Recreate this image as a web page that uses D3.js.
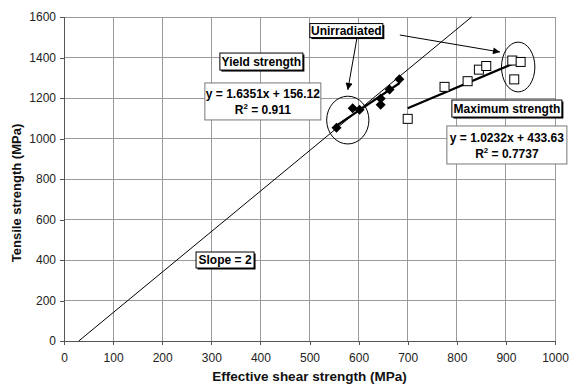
<!DOCTYPE html>
<html><head><meta charset="utf-8">
<script src="https://cdn.jsdelivr.net/npm/d3@7"></script>
<style>
body{margin:0;background:#fff}
svg{display:block;font-family:"Liberation Sans",Arial,sans-serif}
</style></head><body>
<svg id="chart" width="570" height="386"></svg>
<script>
// Yield strength measurements (filled diamonds)
const yieldShear   = [555, 588, 602, 645, 645, 663, 683];
const yieldTensile = [1053, 1150, 1142, 1167, 1197, 1242, 1292];
// Maximum strength measurements (open squares)
const maxShear   = [700, 775, 822, 845, 860, 913, 930, 917];
const maxTensile = [1097, 1255, 1283, 1340, 1358, 1385, 1378, 1292];
// Linear trend fits
const yieldFit = [1.6351, 156.12, 0.911];
const maxFit   = [1.0232, 433.63, 0.7737];
// Reference line of slope 2
const refSlope = 2, refStart = 30, refEnd = 830;
// Axis ticks
const xTicks = [0, 100, 200, 300, 400, 500, 600, 700, 800, 900, 1000];
const yTicks = [0, 200, 400, 600, 800, 1000, 1200, 1400, 1600];
const xTitle = "Effective shear strength (MPa)";
const yTitle = "Tensile strength (MPa)";
// Callout labels
const noteTexts = ["Unirradiated", "Yield strength", "Maximum strength", "Slope = 2"];

const W = 570, H = 386;
const m = {left: 64, right: 15, top: 17, bottom: 45};
const svg = d3.select("#chart");
const x = d3.scaleLinear().domain([0, 1000]).range([m.left, W - m.right]);
const y = d3.scaleLinear().domain([0, 1600]).range([H - m.bottom, m.top]);

// gridlines
const grid = svg.append("g").attr("stroke", "#9a9a9a").attr("stroke-width", 1).attr("shape-rendering", "crispEdges");
grid.selectAll(".gx").data(xTicks.slice(1)).join("line")
  .attr("x1", d => x(d)).attr("x2", d => x(d)).attr("y1", y(0)).attr("y2", y(1600));
grid.selectAll(".gy").data(yTicks.slice(1)).join("line")
  .attr("x1", x(0)).attr("x2", x(1000)).attr("y1", d => y(d)).attr("y2", d => y(d));

// axes
const xAxis = svg.append("g").attr("transform", `translate(0,${y(0)})`)
  .call(d3.axisBottom(x).tickValues(xTicks).tickFormat(d3.format("d")).tickSize(4).tickPadding(8));
const yAxis = svg.append("g").attr("transform", `translate(${x(0)},0)`)
  .call(d3.axisLeft(y).tickValues(yTicks).tickFormat(d3.format("d")).tickSize(4).tickPadding(4));
[xAxis, yAxis].forEach(a => {
  a.select(".domain").attr("stroke", "#555").attr("shape-rendering", "crispEdges");
  a.selectAll(".tick line").attr("stroke", "#555").attr("shape-rendering", "crispEdges");
  a.selectAll(".tick text").attr("font-size", 12).attr("fill", "#222")
    .attr("font-family", '"Liberation Sans",Arial,sans-serif');
});

svg.append("text").attr("x", (x(0) + x(1000)) / 2).attr("y", 381)
  .attr("text-anchor", "middle").attr("font-size", 13.5).attr("font-weight", "bold").attr("fill", "#111").text(xTitle);
svg.append("text").attr("transform", `translate(21,193) rotate(-90)`)
  .attr("text-anchor", "middle").attr("font-size", 13).attr("font-weight", "bold").attr("fill", "#111").text(yTitle);

// slope-2 reference line
svg.append("line")
  .attr("x1", x(refStart)).attr("y1", y(0))
  .attr("x2", x(refEnd)).attr("y2", y(refSlope * (refEnd - refStart)))
  .attr("stroke", "#000").attr("stroke-width", 1);

// trend lines
function trend(xs, fit) {
  const [a, b] = d3.extent(xs);
  svg.append("line")
    .attr("x1", x(a)).attr("y1", y(fit[0] * a + fit[1]))
    .attr("x2", x(b)).attr("y2", y(fit[0] * b + fit[1]))
    .attr("stroke", "#000").attr("stroke-width", 2.2);
}
trend(yieldShear, yieldFit);
trend(maxShear, maxFit);

// markers
svg.append("g").selectAll("path").data(d3.zip(yieldShear, yieldTensile)).join("path")
  .attr("d", d => `M${x(d[0])},${y(d[1]) - 5}l5,5l-5,5l-5,-5z`).attr("fill", "#000");
svg.append("g").selectAll("rect").data(d3.zip(maxShear, maxTensile)).join("rect")
  .attr("x", d => x(d[0]) - 4.5).attr("y", d => y(d[1]) - 4.5)
  .attr("width", 9).attr("height", 9).attr("fill", "#fff").attr("stroke", "#000").attr("stroke-width", 1);

// circled groups
svg.append("ellipse").attr("cx", x(578)).attr("cy", y(1091))
  .attr("rx", x(43) - x(0)).attr("ry", y(0) - y(118))
  .attr("fill", "none").attr("stroke", "#000").attr("stroke-width", 1);
svg.append("ellipse").attr("cx", x(925)).attr("cy", y(1353))
  .attr("rx", x(34) - x(0)).attr("ry", y(0) - y(123))
  .attr("fill", "none").attr("stroke", "#000").attr("stroke-width", 1);

// arrows
svg.append("defs").append("marker").attr("id", "arr")
  .attr("viewBox", "0 0 10 10").attr("refX", 10).attr("refY", 5)
  .attr("markerWidth", 9).attr("markerHeight", 7).attr("markerUnits", "userSpaceOnUse")
  .attr("orient", "auto").append("path").attr("d", "M0,0L10,5L0,10z").attr("fill", "#000");
function arrow(x1, y1, x2, y2) {
  svg.append("line").attr("x1", x(x1)).attr("y1", y(y1)).attr("x2", x(x2)).attr("y2", y(y2))
    .attr("stroke", "#000").attr("stroke-width", 1).attr("marker-end", "url(#arr)");
}
arrow(597, 1501, 578, 1240);
arrow(684, 1511, 888, 1427);

// boxed labels with drop shadow
function note(text, cx, cy, w, h) {
  const g = svg.append("g").attr("transform", `translate(${x(cx)},${y(cy)})`);
  g.append("rect").attr("x", -w / 2 + 1.5).attr("y", -h / 2 + 1.5).attr("width", w).attr("height", h).attr("fill", "#000");
  g.append("rect").attr("x", -w / 2).attr("y", -h / 2).attr("width", w).attr("height", h)
    .attr("fill", "#fff").attr("stroke", "#000").attr("stroke-width", 1);
  g.append("text").attr("text-anchor", "middle").attr("dy", "0.36em")
    .attr("font-size", 12).attr("font-weight", "bold").attr("fill", "#000").text(text);
}
note(noteTexts[0], 575, 1533, 73, 14);
note(noteTexts[1], 402, 1380, 83, 17);
note(noteTexts[2], 902, 1148, 110, 17);
note(noteTexts[3], 328, 400, 58, 16);

// equation boxes
function fmt(fit) { return `y = ${fit[0]}x + ${fit[1]}`; }
function eqBox(fit, cx, cy, w, h) {
  const g = svg.append("g").attr("transform", `translate(${x(cx)},${y(cy)})`);
  g.append("rect").attr("x", -w / 2).attr("y", -h / 2).attr("width", w).attr("height", h)
    .attr("fill", "#fff").attr("stroke", "#777").attr("stroke-width", 1);
  g.append("text").attr("text-anchor", "middle").attr("y", -3)
    .attr("font-size", 12).attr("font-weight", "bold").attr("fill", "#000").text(fmt(fit));
  const t = g.append("text").attr("text-anchor", "middle").attr("y", 13)
    .attr("font-size", 12).attr("font-weight", "bold").attr("fill", "#000");
  t.append("tspan").text("R");
  t.append("tspan").attr("font-size", 8).attr("dy", -5).text("2");
  t.append("tspan").attr("dy", 5).text(` = ${fit[2]}`);
}
eqBox(yieldFit, 405, 1183, 116, 37);
eqBox(maxFit, 902, 968, 120, 38);
</script>
</body></html>
